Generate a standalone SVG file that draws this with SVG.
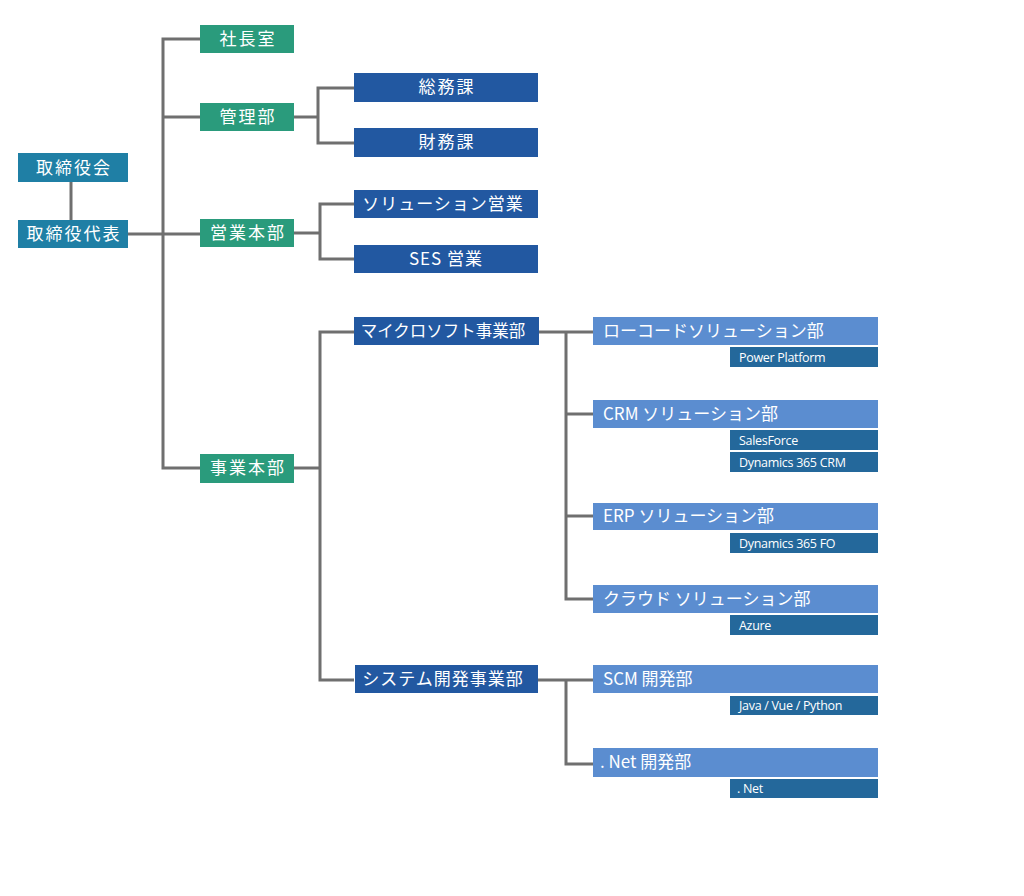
<svg xmlns="http://www.w3.org/2000/svg" width="1024" height="896" viewBox="0 0 1024 896">
<style>
  .conn { fill: none; stroke: #6f6f6f; stroke-width: 3; stroke-linejoin: miter; stroke-linecap: butt; }
  .teal { fill: #1f7fa5; }
  .green { fill: #2a9b7c; }
  .dark { fill: #2258a1; }
  .light { fill: #5b8dd0; }
  .sub { fill: #24689b; }
  text { fill: #ffffff; font-family: "Noto Sans CJK JP", "Noto Sans", sans-serif; }
  .c16 { font-size: 17px; text-anchor: middle; letter-spacing: 2px; }
  .d16 { font-size: 17px; text-anchor: middle; letter-spacing: 1px; }
  .tight { font-size: 16.5px; letter-spacing: 0; }
  .l17 { font-size: 17px; }
  .s13 { font-size: 12.5px; font-family: "Open Sans", "Noto Sans", sans-serif; letter-spacing: -0.3px; }
</style>
<rect width="1024" height="896" fill="#ffffff"/>
<g id="connectors">
  <path class="conn" d="M71,182 V220"/>
  <path class="conn" d="M128,234 H200"/>
  <path class="conn" d="M200,39 H163 V468 H200"/>
  <path class="conn" d="M163,117 H200"/>
  <path class="conn" d="M294,117 H318"/>
  <path class="conn" d="M354,88 H318 V143 H354"/>
  <path class="conn" d="M294,233 H320"/>
  <path class="conn" d="M354,204 H320 V259 H354"/>
  <path class="conn" d="M294,468 H320"/>
  <path class="conn" d="M354,332 H320 V680 H354"/>
  <path class="conn" d="M539,332 H593"/>
  <path class="conn" d="M566,332 V599 H593"/>
  <path class="conn" d="M566,414 H593"/>
  <path class="conn" d="M566,516 H593"/>
  <path class="conn" d="M538,680 H593"/>
  <path class="conn" d="M566,680 V764 H593"/>
</g>
<g id="board"><rect class="teal" x="18" y="153" width="110" height="29"/><text class="c16" x="74" y="174">取締役会</text></g>
<g id="ceo"><rect class="teal" x="18" y="220" width="110" height="28"/><text class="c16" x="74" y="240">取締役代表</text></g>
<g id="president-office"><rect class="green" x="200" y="25" width="94" height="28"/><text class="c16" x="248" y="45">社長室</text></g>
<g id="admin"><rect class="green" x="200" y="103" width="94" height="28"/><text class="c16" x="248" y="123">管理部</text></g>
<g id="sales-hq"><rect class="green" x="200" y="219" width="94" height="28"/><text class="c16" x="248" y="239">営業本部</text></g>
<g id="biz-hq"><rect class="green" x="200" y="454" width="94" height="29"/><text class="c16" x="248" y="474">事業本部</text></g>
<g id="general-affairs"><rect class="dark" x="354" y="73" width="184" height="29"/><text class="c16" x="447" y="93">総務課</text></g>
<g id="finance"><rect class="dark" x="354" y="128" width="184" height="29"/><text class="c16" x="447" y="148">財務課</text></g>
<g id="solution-sales"><rect class="dark" x="354" y="190" width="184" height="28"/><text class="d16" x="443" y="210">ソリューション営業</text></g>
<g id="ses-sales"><rect class="dark" x="354" y="245" width="184" height="28"/><text class="d16" x="446" y="265">SES 営業</text></g>
<g id="microsoft"><rect class="dark" x="354" y="317" width="185" height="28"/><text class="d16 tight" x="443" y="337">マイクロソフト事業部</text></g>
<g id="sysdev"><rect class="dark" x="355" y="665" width="183" height="28"/><text class="d16" x="443" y="685">システム開発事業部</text></g>
<g id="lowcode"><rect class="light" x="593" y="317" width="285" height="28"/><text class="l17" x="603" y="337">ローコードソリューション部</text>
  <rect class="sub" x="730" y="347" width="148" height="20"/><text class="s13" x="739" y="362">Power Platform</text></g>
<g id="crm"><rect class="light" x="593" y="400" width="285" height="28"/><text class="l17" x="603" y="420">CRM ソリューション部</text>
  <rect class="sub" x="730" y="430" width="148" height="20"/><text class="s13" x="739" y="445">SalesForce</text>
  <rect class="sub" x="730" y="452" width="148" height="20"/><text class="s13" x="739" y="467">Dynamics 365 CRM</text></g>
<g id="erp"><rect class="light" x="593" y="503" width="285" height="27"/><text class="l17" x="603" y="522">ERP ソリューション部</text>
  <rect class="sub" x="730" y="533" width="148" height="20"/><text class="s13" x="739" y="548">Dynamics 365 FO</text></g>
<g id="cloud"><rect class="light" x="593" y="585" width="285" height="28"/><text class="l17" x="603" y="605">クラウド ソリューション部</text>
  <rect class="sub" x="730" y="615" width="148" height="20"/><text class="s13" x="739" y="630">Azure</text></g>
<g id="scm"><rect class="light" x="593" y="665" width="285" height="28"/><text class="l17" x="603" y="685">SCM 開発部</text>
  <rect class="sub" x="730" y="696" width="148" height="19"/><text class="s13" x="739" y="710">Java / Vue / Python</text></g>
<g id="dotnet"><rect class="light" x="593" y="748" width="285" height="29"/><text class="l17" x="600" y="768">. Net 開発部</text>
  <rect class="sub" x="730" y="779" width="148" height="19"/><text class="s13" x="737" y="793">. Net</text></g>
</svg>
